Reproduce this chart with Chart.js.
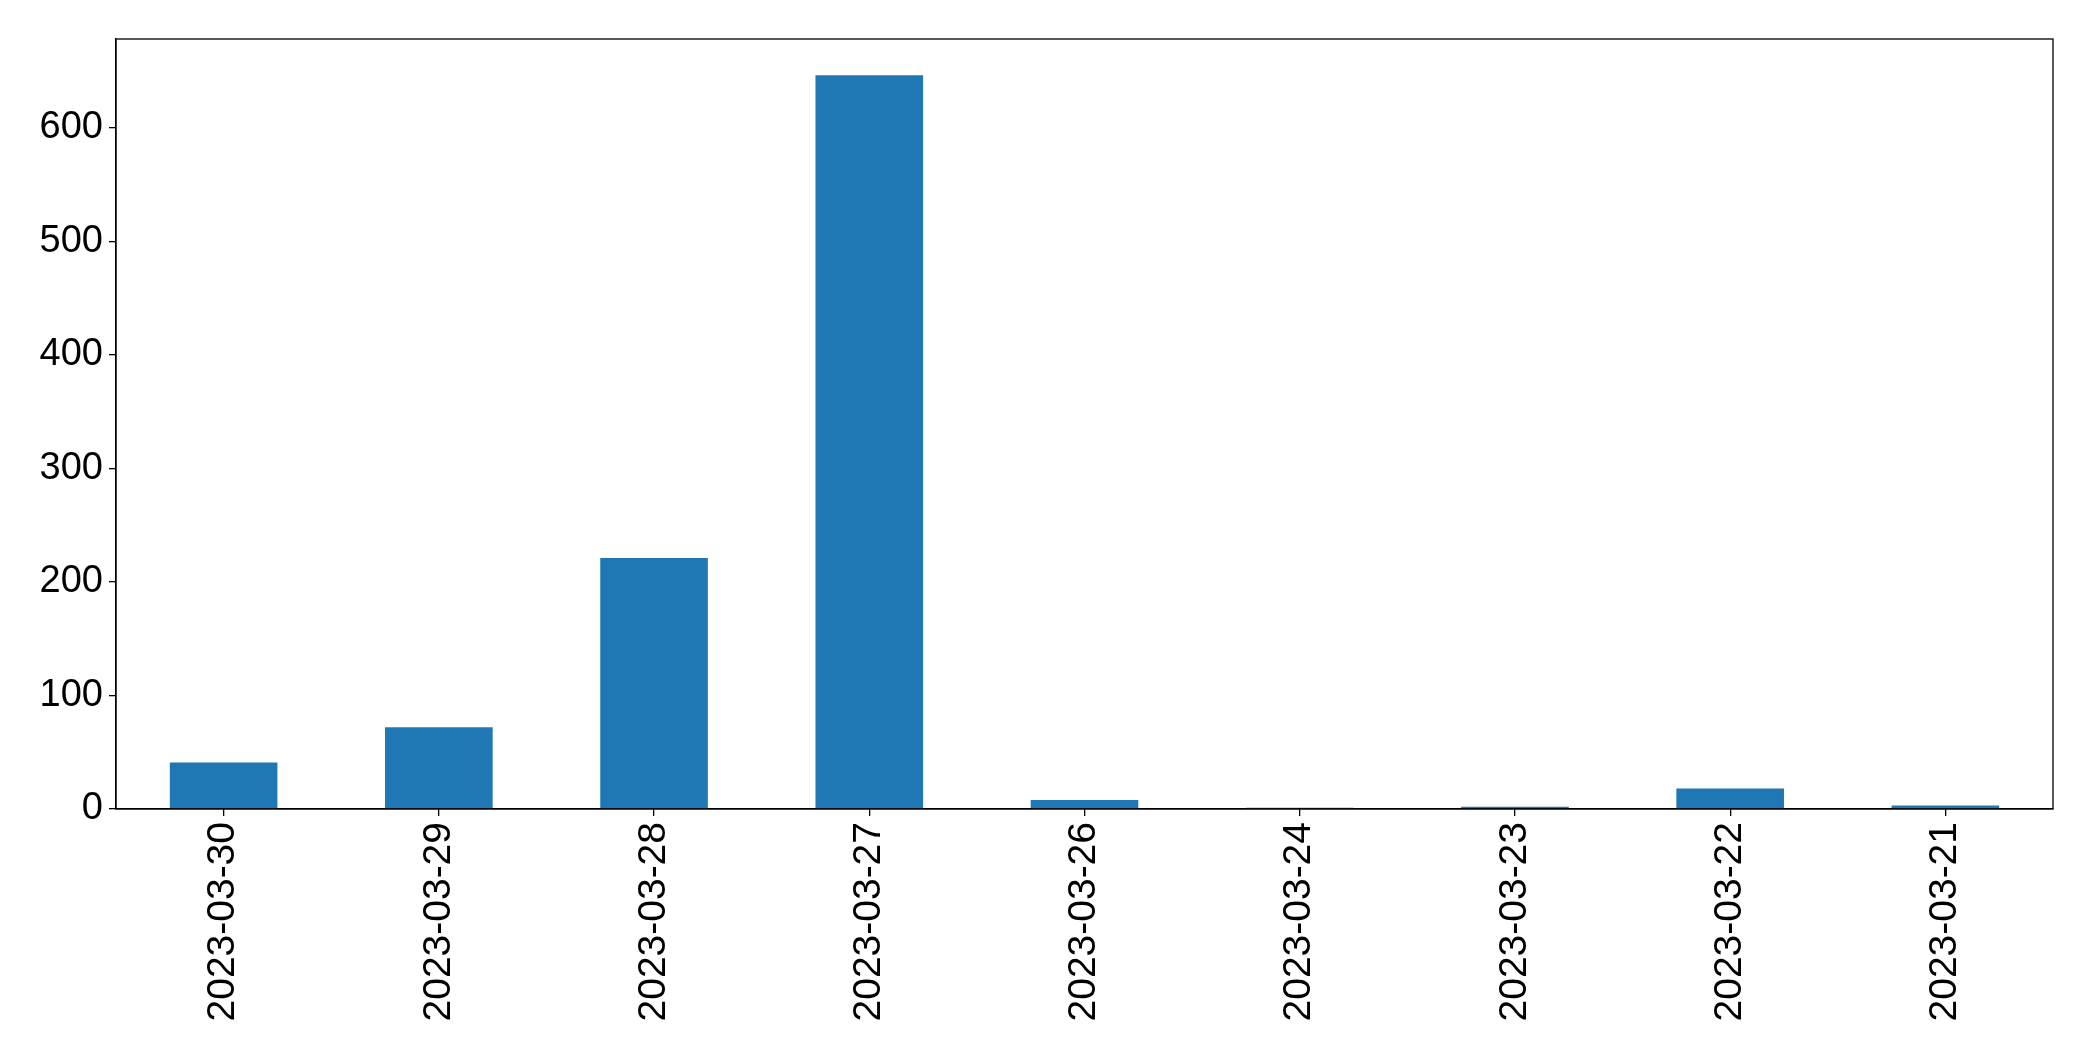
<!DOCTYPE html>
<html lang="en">
<head>
<meta charset="UTF-8">
<title>Bar chart</title>
<script src="https://cdn.jsdelivr.net/npm/chart.js"></script>
<style>
  body { margin: 0; padding: 0; background: #ffffff; }
  #wrap { width: 2093px; height: 1061px; }
</style>
</head>
<body>
<div id="wrap"><canvas id="barChart" width="2093" height="1061"></canvas></div>
<script>
// dates (x axis) and counts
const dates = ['2023-03-30', '2023-03-29', '2023-03-28', '2023-03-27', '2023-03-26',
               '2023-03-24', '2023-03-23', '2023-03-22', '2023-03-21'];
const counts = [41, 72, 221, 646, 8, 1, 2, 18, 3];
const yTicks = [0, 100, 200, 300, 400, 500, 600];

// box around the plot area, like matplotlib spines
const frame = {
  id: 'frame',
  afterDraw(chart) {
    const a = chart.chartArea, c = chart.ctx;
    c.save();
    c.strokeStyle = '#000';
    c.lineWidth = 1.3;
    c.strokeRect(a.left, a.top, a.right - a.left, a.bottom - a.top);
    c.restore();
  }
};

const ctx = document.getElementById('barChart').getContext('2d');
new Chart(ctx, {
  type: 'bar',
  data: {
    labels: dates,
    datasets: [{
      data: counts,
      backgroundColor: '#1f77b4',
      borderWidth: 0,
      categoryPercentage: 1.0,
      barPercentage: 0.5
    }]
  },
  options: {
    responsive: false,
    animation: false,
    layout: { padding: { top: 39, right: 40, left: 0, bottom: 0 } },
    plugins: { legend: { display: false }, tooltip: { enabled: false } },
    scales: {
      x: {
        offset: true,
        grid: { offset: false, drawOnChartArea: false, drawTicks: true, tickLength: 7, color: '#000', lineWidth: 1.3 },
        border: { display: true, color: '#000', width: 1.3 },
        ticks: {
          color: '#000',
          font: { family: 'Liberation Sans', size: 39 },
          minRotation: 90, maxRotation: 90, autoSkip: false, padding: 6
        },
        afterFit(scale) { scale.height = 252; }
      },
      y: {
        min: 0,
        max: 678,
        grid: { drawOnChartArea: false, drawTicks: true, tickLength: 7, color: '#000', lineWidth: 1.3 },
        border: { display: true, color: '#000', width: 1.3 },
        afterBuildTicks(scale) { scale.ticks = yTicks.map(v => ({ value: v })); },
        ticks: {
          color: '#000',
          font: { family: 'Liberation Sans', size: 38 },
          padding: 6
        },
        afterFit(scale) { scale.width = 116; }
      }
    }
  },
  plugins: [frame]
});
</script>
</body>
</html>
